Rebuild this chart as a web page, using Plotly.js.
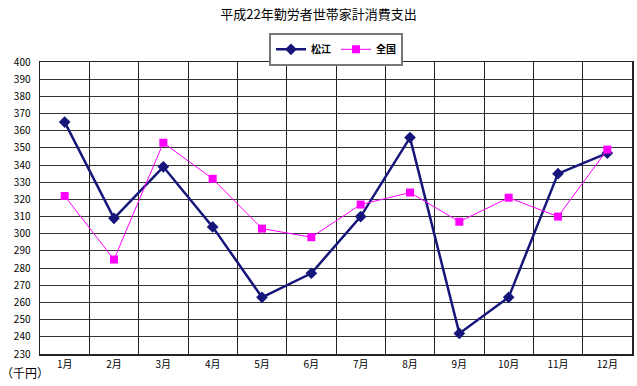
<!DOCTYPE html>
<html><head><meta charset="utf-8">
<script src="https://cdn.plot.ly/plotly-3.0.1.min.js"></script>
<style>html,body{margin:0;padding:0;background:#fff}#c{width:637px;height:386px}</style>
</head><body><div id="c"></div>
<script>
const months = ["1月","2月","3月","4月","5月","6月","7月","8月","9月","10月","11月","12月"];
const matsue = [365, 309, 339, 304, 263, 277, 310, 356, 242, 263, 335, 347];
const zenkoku = [322, 285, 353, 332, 303, 298, 317, 324, 307, 321, 310, 349];
const seriesNames = ["松江", "全国"];
const chartTitle = "平成22年勤労者世帯家計消費支出";
const unitLabel = "（千円）";

const font = "'Noto Sans CJK JP', 'Noto Sans', sans-serif";
const traces = [
  {x: months, y: matsue, name: seriesNames[0], type: "scatter", mode: "lines+markers",
   line: {color: "#16167a", width: 2.5}, marker: {symbol: "diamond", size: 9, color: "#16167a"}},
  {x: months, y: zenkoku, name: seriesNames[1], type: "scatter", mode: "lines+markers",
   line: {color: "#ff00ff", width: 1}, marker: {symbol: "square", size: 8, color: "#ff00ff"}}
];
const layout = {
  width: 637, height: 386,
  margin: {l: 40, r: 5, t: 62, b: 32},
  paper_bgcolor: "#fff", plot_bgcolor: "#fff",
  font: {family: font, size: 10, color: "#000"},
  title: {text: chartTitle, x: 0.5, xanchor: "center", y: 0.962, yanchor: "middle", font: {family: font, size: 13, color: "#000"}},
  showlegend: true,
  legend: {orientation: "h", x: 0.5, xanchor: "center", y: 1.1, yanchor: "top",
           bordercolor: "#777", borderwidth: 2, bgcolor: "#fff", font: {family: font, size: 10, weight: "bold"},
           tracegroupgap: 0},
  xaxis: {type: "category", range: [-0.5, 11.5], tickson: "boundaries", showgrid: true, gridcolor: "#222", gridwidth: 1,
          showline: true, linecolor: "#222", linewidth: 1.5, mirror: true, ticks: "", ticklen: 0,
          tickfont: {family: font, size: 10}, fixedrange: true},
  yaxis: {range: [230, 400], dtick: 10, tick0: 230, showgrid: true, gridcolor: "#333", gridwidth: 1,
          showline: true, linecolor: "#222", linewidth: 1.5, mirror: true, ticks: "", zeroline: false,
          tickfont: {family: font, size: 10}, ticklabelstandoff: 6},
  annotations: [{text: unitLabel, xref: "paper", yref: "paper", x: -0.07, y: -0.063, xanchor: "left", yanchor: "middle",
                 showarrow: false, font: {family: font, size: 12}}]
};
Plotly.newPlot("c", traces, layout, {staticPlot: true});
</script></body></html>
